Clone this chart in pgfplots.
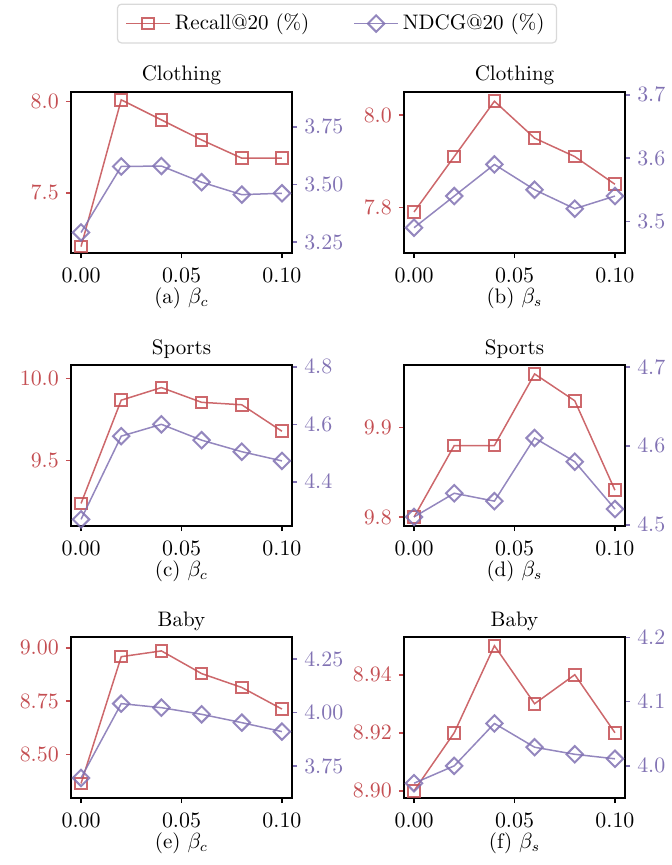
\documentclass[border=0pt]{standalone}
\usepackage{pgfplots}
\pgfplotsset{compat=1.18}
\usetikzlibrary{plotmarks}
\definecolor{cred}{HTML}{C44E52}
\definecolor{cpur}{HTML}{8172B3}
\newcommand{\ff}{\fontsize{10.5}{12}\selectfont}
\pgfplotsset{
  base/.style={
    scale only axis, width=110.5pt, height=80.5pt,
    xmin=-0.005, xmax=0.105,
    font=\ff,
    tick align=outside, major tick length=2.6pt,
    scaled ticks=false,
    axis line style={black, line width=0.8pt},
    yticklabel style={/pgf/number format/fixed, /pgf/number format/fixed zerofill,
      /pgf/number format/precision=2},
  },
  leftax/.style={
    base,
    xtick={0,0.05,0.1}, xtick pos=bottom, ytick pos=left,
    xticklabel style={/pgf/number format/fixed, /pgf/number format/fixed zerofill,
      /pgf/number format/precision=2, yshift=-1.5pt},
    x tick style={black, line width=0.8pt},
    y tick style={cred, line width=0.8pt},
    yticklabel style={text=cred},
    every axis title shift=0pt,
    every axis title/.style={at={(0.5,1)}, anchor=base, yshift=5.5pt},
    every axis x label/.style={at={(0.5,0)}, anchor=base, yshift=-25pt},
  },
  rightax/.style={
    base,
    axis x line=none, axis y line*=right, ytick pos=right,
    y tick style={cpur, line width=0.8pt},
    yticklabel style={text=cpur},
  },
  rec/.style={cred, draw opacity=0.85, line width=0.75pt, mark=square,
    mark size=2.9pt, mark options={line width=1pt, fill=none}},
  ndc/.style={cpur, draw opacity=0.85, line width=0.75pt, mark=square,
    mark size=2.9pt, mark options={rotate=45, line width=1pt, fill=none}},
  legend image code/.code={
    \draw[mark repeat=2, mark phase=2, #1] plot coordinates {(0pt,0pt) (11pt,0pt) (22pt,0pt)};
  },
}
\begin{document}
\begin{tikzpicture}
\path (0,0) rectangle (333pt,-432.5pt);

% (a) Clothing, beta_c
\begin{axis}[leftax, at={(35.5pt,-126.5pt)}, anchor=south west,
  ymin=7.17, ymax=8.053, ytick={7.5,8.0},
  yticklabel style={/pgf/number format/precision=1},
  title={\ff Clothing}, xlabel={\ff (a) $\beta_c$},
  legend columns=2,
  legend style={at={(1.2036,1.425)}, anchor=center, draw=black!15, rounded corners=2pt,
    line width=0.6pt, inner xsep=4pt, inner ysep=3pt,
    /tikz/every even column/.append style={column sep=20pt},
    font=\ff}]
  \addplot[rec] coordinates {(0,7.205) (0.02,8.01) (0.04,7.90) (0.06,7.79) (0.08,7.69) (0.1,7.69)};
  \addlegendentry{Recall@20 (\%)}
  \addlegendimage{ndc}
  \addlegendentry{NDCG@20 (\%)}
\end{axis}
\begin{axis}[rightax, at={(35.5pt,-126.5pt)}, anchor=south west,
  ymin=3.203, ymax=3.901, ytick={3.25,3.5,3.75}]
  \addplot[ndc] coordinates {(0,3.292) (0.02,3.578) (0.04,3.58) (0.06,3.51) (0.08,3.456) (0.1,3.462)};
\end{axis}

% (b) Clothing, beta_s
\begin{axis}[leftax, at={(202pt,-126.5pt)}, anchor=south west,
  ymin=7.701, ymax=8.050, ytick={7.8,8.0},
  yticklabel style={/pgf/number format/precision=1},
  title={\ff Clothing}, xlabel={\ff (b) $\beta_s$}]
  \addplot[rec] coordinates {(0,7.79) (0.02,7.91) (0.04,8.03) (0.06,7.95) (0.08,7.91) (0.1,7.85)};
\end{axis}
\begin{axis}[rightax, at={(202pt,-126.5pt)}, anchor=south west,
  ymin=3.45, ymax=3.7045, ytick={3.5,3.6,3.7},
  yticklabel style={/pgf/number format/precision=1}]
  \addplot[ndc] coordinates {(0,3.49) (0.02,3.54) (0.04,3.59) (0.06,3.55) (0.08,3.52) (0.1,3.54)};
\end{axis}

% (c) Sports, beta_c
\begin{axis}[leftax, at={(35.5pt,-263pt)}, anchor=south west,
  ymin=9.099, ymax=10.083, ytick={9.5,10.0},
  yticklabel style={/pgf/number format/precision=1},
  title={\ff Sports}, xlabel={\ff (c) $\beta_c$}]
  \addplot[rec] coordinates {(0,9.237) (0.02,9.868) (0.04,9.945) (0.06,9.855) (0.08,9.84) (0.1,9.678)};
\end{axis}
\begin{axis}[rightax, at={(35.5pt,-263pt)}, anchor=south west,
  ymin=4.247, ymax=4.806, ytick={4.4,4.6,4.8},
  yticklabel style={/pgf/number format/precision=1}]
  \addplot[ndc] coordinates {(0,4.27) (0.02,4.559) (0.04,4.60) (0.06,4.545) (0.08,4.505) (0.1,4.473)};
\end{axis}

% (d) Sports, beta_s
\begin{axis}[leftax, at={(202pt,-263pt)}, anchor=south west,
  ymin=9.79, ymax=9.97, ytick={9.8,9.9},
  yticklabel style={/pgf/number format/precision=1},
  title={\ff Sports}, xlabel={\ff (d) $\beta_s$}]
  \addplot[rec] coordinates {(0,9.80) (0.02,9.88) (0.04,9.88) (0.06,9.96) (0.08,9.93) (0.1,9.83)};
\end{axis}
\begin{axis}[rightax, at={(202pt,-263pt)}, anchor=south west,
  ymin=4.4985, ymax=4.7025, ytick={4.5,4.6,4.7},
  yticklabel style={/pgf/number format/precision=1}]
  \addplot[ndc] coordinates {(0,4.51) (0.02,4.54) (0.04,4.53) (0.06,4.61) (0.08,4.58) (0.1,4.52)};
\end{axis}

% (e) Baby, beta_c
\begin{axis}[leftax, at={(35.5pt,-399pt)}, anchor=south west,
  ymin=8.297, ymax=9.05, ytick={8.5,8.75,9.0},
  title={\ff Baby}, xlabel={\ff (e) $\beta_c$}]
  \addplot[rec] coordinates {(0,8.365) (0.02,8.958) (0.04,8.985) (0.06,8.879) (0.08,8.814) (0.1,8.713)};
\end{axis}
\begin{axis}[rightax, at={(35.5pt,-399pt)}, anchor=south west,
  ymin=3.60, ymax=4.354, ytick={3.75,4.0,4.25}]
  \addplot[ndc] coordinates {(0,3.694) (0.02,4.042) (0.04,4.023) (0.06,3.992) (0.08,3.953) (0.1,3.911)};
\end{axis}

% (f) Baby, beta_s
\begin{axis}[leftax, at={(202pt,-399pt)}, anchor=south west,
  ymin=8.8975, ymax=8.953, ytick={8.90,8.92,8.94},
  title={\ff Baby}, xlabel={\ff (f) $\beta_s$}]
  \addplot[rec] coordinates {(0,8.90) (0.02,8.92) (0.04,8.95) (0.06,8.93) (0.08,8.94) (0.1,8.92)};
\end{axis}
\begin{axis}[rightax, at={(202pt,-399pt)}, anchor=south west,
  ymin=3.95, ymax=4.2005, ytick={4.0,4.1,4.2},
  yticklabel style={/pgf/number format/precision=1}]
  \addplot[ndc] coordinates {(0,3.973) (0.02,4.00) (0.04,4.066) (0.06,4.029) (0.08,4.018) (0.1,4.011)};
\end{axis}
\end{tikzpicture}
\end{document}
